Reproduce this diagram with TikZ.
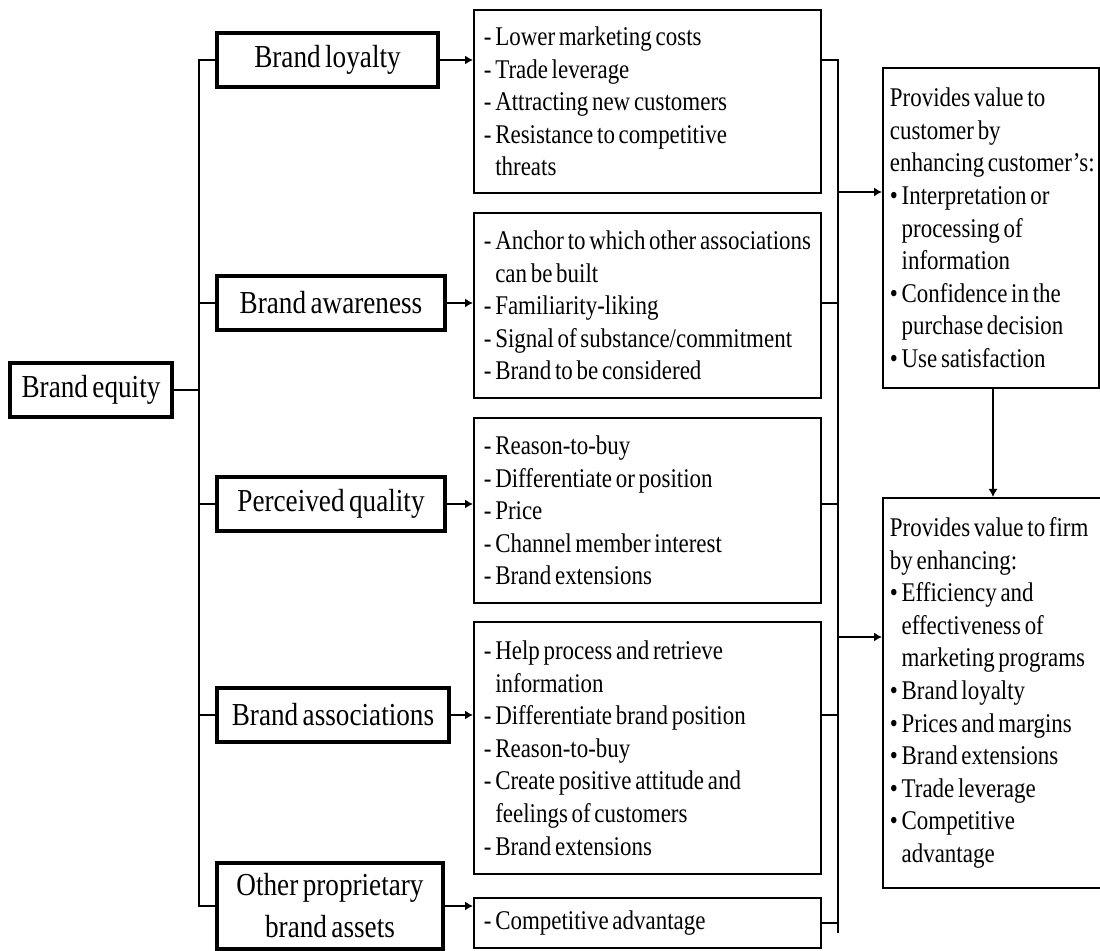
\documentclass[tikz,border=0pt]{standalone}
\usepackage{fontspec}
\setmainfont{Liberation Serif}[FakeStretch=0.85,WordSpace=0.65]
\usetikzlibrary{arrows.meta}

\newcommand\ditem[1]{\mbox{-~#1}}
\newcommand\dcont[1]{\mbox{\hphantom{-~}#1}}
\newcommand\bitem[1]{\mbox{\textbullet~#1}}
\newcommand\bcont[1]{\mbox{\hphantom{\textbullet~}#1}}

\begin{document}
\begin{tikzpicture}[x=0.5pt,y=-0.5pt,
  lbox/.style={draw,line width=2pt,inner sep=0pt,align=center,font=\fontsize{16}{21}\selectfont,minimum height=27pt},
  mbox/.style={draw,line width=0.9pt,inner xsep=5pt,inner ysep=0pt,text width=163.5pt,align=flush left,font=\fontsize{13.5}{16.3}\selectfont},
  rbox/.style={draw,line width=0.9pt,inner xsep=3.5pt,inner ysep=0pt,align=flush left,font=\fontsize{13.5}{16.3}\selectfont},
  link/.style={line width=0.7pt},
  arr/.style={link,-{Latex[length=4pt,width=4.5pt]}}]
\clip (0,0) rectangle (1100,951);

\node[lbox,minimum width=81pt] (eq) at (91,390) {Brand equity};

\node[lbox,minimum width=110.5pt,anchor=west] (ll) at (215,60) {Brand loyalty};
\node[lbox,minimum width=114pt,anchor=west] (la) at (215,303) {Brand awareness};
\node[lbox,minimum width=114pt,anchor=west] (lq) at (215,504) {Perceived quality};
\node[lbox,minimum width=116pt,anchor=west] (ls) at (215,715) {Brand associations};
\node[lbox,minimum width=113pt,minimum height=43pt,anchor=west] (lo) at (215,906) {Other proprietary\\brand assets};

\node[mbox,minimum height=91.5pt,anchor=west] (m1) at (473,101.5)
  {\ditem{Lower marketing costs}\\\ditem{Trade leverage}\\\ditem{Attracting new customers}\\
   \ditem{Resistance to competitive}\\\dcont{threats}};
\node[mbox,minimum height=92.5pt,anchor=west] (m2) at (473,305.5)
  {\ditem{Anchor to which other associations}\\\dcont{can be built}\\\ditem{Familiarity-liking}\\
   \ditem{Signal of substance/commitment}\\\ditem{Brand to be considered}};
\node[mbox,minimum height=92.5pt,anchor=west] (m3) at (473,510.5)
  {\ditem{Reason-to-buy}\\\ditem{Differentiate or position}\\\ditem{Price}\\
   \ditem{Channel member interest}\\\ditem{Brand extensions}};
\node[mbox,minimum height=126pt,anchor=west] (m4) at (473,748)
  {\ditem{Help process and retrieve}\\\dcont{information}\\\ditem{Differentiate brand position}\\
   \ditem{Reason-to-buy}\\\ditem{Create positive attitude and}\\\dcont{feelings of customers}\\
   \ditem{Brand extensions}};
\node[mbox,minimum height=25pt,anchor=west] (m5) at (473,923) {\ditem{Competitive advantage}};

\node[rbox,text width=101pt,minimum height=160pt,anchor=north west] (rt) at (882,67)
  {\mbox{Provides value to}\\\mbox{customer by}\\\mbox{enhancing customer’s:}\\
   \bitem{Interpretation or}\\\bcont{processing of}\\\bcont{information}\\
   \bitem{Confidence in the}\\\bcont{purchase decision}\\\bitem{Use satisfaction}};
\node[rbox,text width=104.5pt,minimum height=195pt,anchor=north west] (rb) at (882,497)
  {\mbox{Provides value to firm}\\\mbox{by enhancing:}\\\bitem{Efficiency and}\\
   \bcont{effectiveness of}\\\bcont{marketing programs}\\\bitem{Brand loyalty}\\
   \bitem{Prices and margins}\\\bitem{Brand extensions}\\\bitem{Trade leverage}\\
   \bitem{Competitive}\\\bcont{advantage}};

\coordinate (bl) at (199,0);
\coordinate (br) at (838,0);
\coordinate (j1) at (838,192);
\coordinate (j2) at (838,637);
\coordinate (j3) at (838,933);
\coordinate (jv) at (993,0);

\draw[link] (ll.west) -- (ll.west -| bl) -- (lo.west -| bl) -- (lo.west);
\foreach \n in {la,lq,ls}
  \draw[link] (\n.west) -- (\n.west -| bl);
\draw[link] (eq.east) -- (eq.east -| bl);

\draw[arr] (ll.east) -- (ll.east -| m1.west);
\draw[arr] (la.east) -- (la.east -| m2.west);
\draw[arr] (lq.east) -- (lq.east -| m3.west);
\draw[arr] (ls.east) -- (ls.east -| m4.west);
\draw[arr] (lo.east) -- (lo.east -| m5.west);

\draw[link] (ll.east -| m1.east) -- (ll.east -| br) -- (j3);
\draw[link] (la.east -| m2.east) -- (la.east -| br);
\draw[link] (lq.east -| m3.east) -- (lq.east -| br);
\draw[link] (ls.east -| m4.east) -- (ls.east -| br);
\draw[link] (m5.east) -- (m5.east -| br);

\draw[arr] (j1) -- (j1 -| rt.west);
\draw[arr] (j2) -- (j2 -| rb.west);
\draw[arr] (jv |- rt.south) -- (jv |- rb.north);
\end{tikzpicture}
\end{document}
